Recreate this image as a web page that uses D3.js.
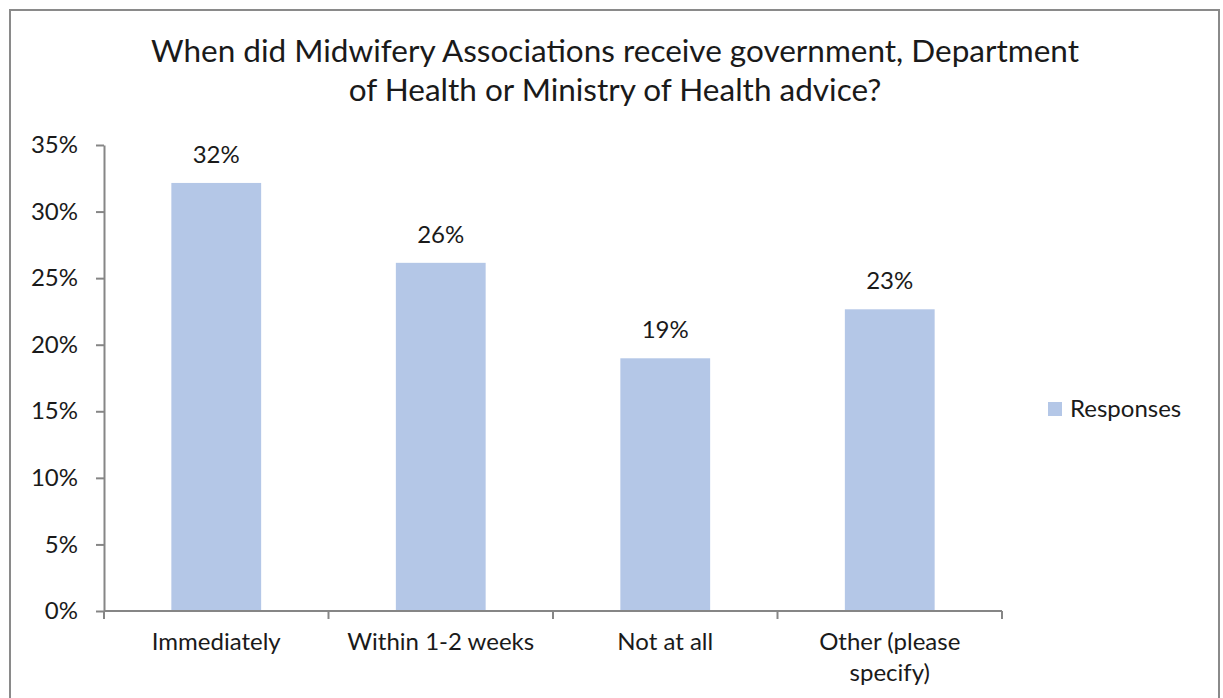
<!DOCTYPE html>
<html lang="en">
<head>
<meta charset="utf-8">
<title>Midwifery Associations</title>
<script src="https://cdn.jsdelivr.net/npm/d3@7"></script>
<style>
    body { margin: 0; background: #fff; }
    text { font-family: Lato, "Open Sans", sans-serif; fill: #1a1a1a; }
    .axis path, .axis line { stroke: #868686; stroke-width: 2; }
</style>
</head>
<body>
<script>
// data
var categories = ["Immediately", "Within 1-2 weeks", "Not at all", "Other (please specify)"];
var responses = [0.3215, 0.2615, 0.1898, 0.2266];
var valueLabels = ["32%", "26%", "19%", "23%"];
var yTicks = [0, 0.05, 0.10, 0.15, 0.20, 0.25, 0.30, 0.35];
var titleLines = ["When did Midwifery Associations receive government, Department",
                  "of Health or Ministry of Health advice?"];
var seriesName = "Responses";

var w = 1223, h = 698;
var plotLeft = 104, plotRight = 1002, plotTop = 145, plotBottom = 611;
var barColor = "#b4c7e7";

var svg = d3.select("body").append("svg")
    .attr("width", w).attr("height", h);

// outer frame
svg.append("rect")
    .attr("x", 10).attr("y", 10)
    .attr("width", 1209).attr("height", 700)
    .attr("fill", "none").attr("stroke", "#8a8a8a").attr("stroke-width", 2);

// title
svg.selectAll("text.title")
    .data(titleLines)
    .enter().append("text")
    .attr("class", "title")
    .attr("x", 615)
    .attr("y", function(d, i) { return 62 + i * 39; })
    .attr("text-anchor", "middle")
    .style("font-size", "31.5px")
    .text(function(d) { return d; });

var x = d3.scaleBand().domain(categories).range([plotLeft, plotRight]).paddingInner(0.6).paddingOuter(0.3);
var y = d3.scaleLinear().domain([0, 0.35]).range([plotBottom, plotTop]);

// bars
svg.selectAll("rect.bar")
    .data(responses)
    .enter().append("rect")
    .attr("class", "bar")
    .attr("x", function(d, i) { return x(categories[i]); })
    .attr("y", function(d) { return y(d); })
    .attr("width", x.bandwidth())
    .attr("height", function(d) { return y(0) - y(d); })
    .attr("fill", barColor);

// value labels
svg.selectAll("text.val")
    .data(responses)
    .enter().append("text")
    .attr("class", "val")
    .attr("x", function(d, i) { return x(categories[i]) + x.bandwidth() / 2; })
    .attr("y", function(d) { return y(d) - 20; })
    .attr("text-anchor", "middle")
    .style("font-size", "24px")
    .text(function(d, i) { return valueLabels[i]; });

// y axis
var yAxis = svg.append("g")
    .attr("class", "axis")
    .attr("transform", "translate(" + plotLeft + ",0)")
    .call(d3.axisLeft(y).tickValues(yTicks).tickFormat(d3.format(".0%")).tickSize(8).tickSizeOuter(0).tickPadding(18));
yAxis.selectAll("text").style("font-size", "24px").attr("fill", "#1a1a1a");

// x axis with ticks at category boundaries
var xAxis = svg.append("g")
    .attr("class", "axis")
    .attr("transform", "translate(0," + plotBottom + ")");
xAxis.append("line")
    .attr("x1", plotLeft).attr("x2", plotRight)
    .attr("y1", 0).attr("y2", 0);
var step = (plotRight - plotLeft) / categories.length;
xAxis.selectAll("line.tick")
    .data(d3.range(categories.length + 1))
    .enter().append("line")
    .attr("class", "tick")
    .attr("x1", function(d) { return plotLeft + d * step; })
    .attr("x2", function(d) { return plotLeft + d * step; })
    .attr("y1", 0).attr("y2", 8);

var catLabels = xAxis.selectAll("text.cat")
    .data(categories)
    .enter().append("text")
    .attr("class", "cat")
    .attr("text-anchor", "middle")
    .style("font-size", "24px");
catLabels.each(function(d) {
    var cx = x(d) + x.bandwidth() / 2;
    var lines = d === "Other (please specify)" ? ["Other (please", "specify)"] : [d];
    var t = d3.select(this);
    lines.forEach(function(l, i) {
        t.append("tspan").attr("x", cx).attr("y", 39 + i * 31).text(l);
    });
});

// legend
svg.append("rect")
    .attr("x", 1048).attr("y", 402)
    .attr("width", 14).attr("height", 14)
    .attr("fill", barColor);
svg.append("text")
    .attr("x", 1070).attr("y", 417)
    .style("font-size", "24px")
    .text(seriesName);
</script>
</body>
</html>
